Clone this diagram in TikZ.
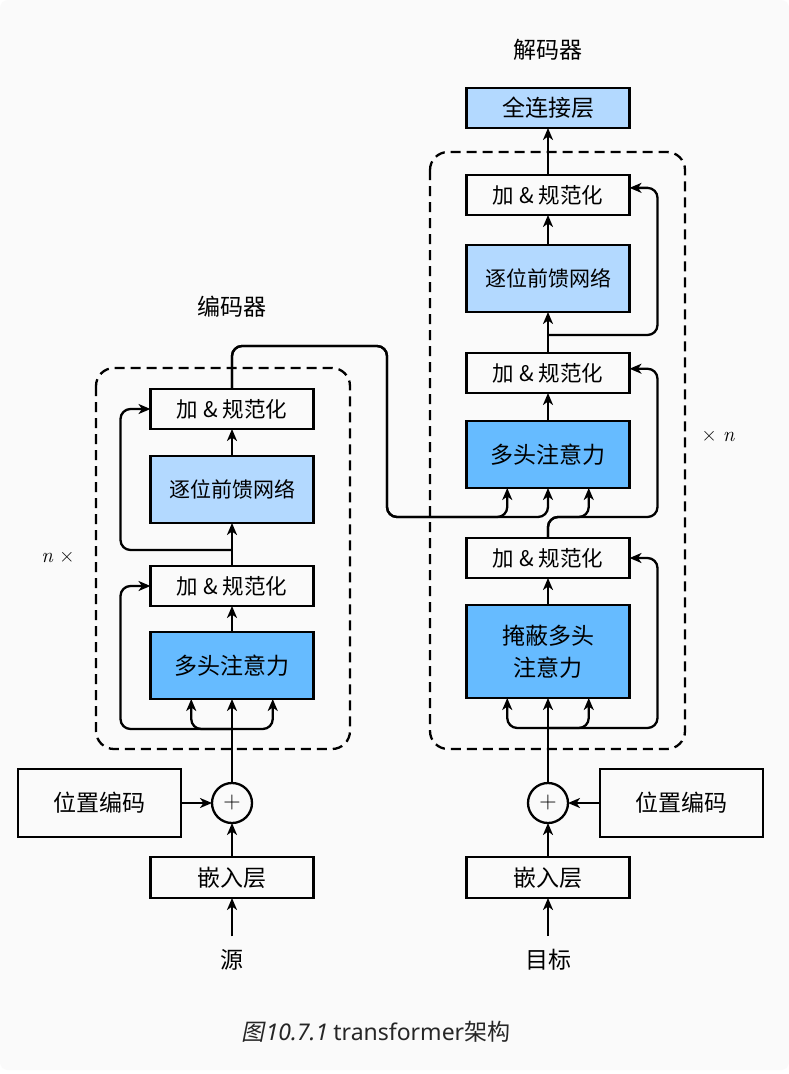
\documentclass[tikz,border=0pt]{standalone}
\usepackage{fontspec}
\setmainfont{Noto Sans CJK SC}
\newfontfamily\latinfont{Noto Sans}
\newfontfamily\lmfont{Latin Modern Roman}
\newfontfamily\cjkslant[FakeSlant=0.2]{Noto Sans CJK SC}
\usetikzlibrary{arrows.meta, positioning, calc}

\definecolor{bgray}{HTML}{FAFAFA}
\definecolor{attnblue}{HTML}{66BBFF}
\definecolor{ffnblue}{HTML}{B3D9FF}

\tikzset{
  blk/.style={draw, line width=2.3pt, outer sep=0pt, minimum width=163pt, minimum height=40pt, inner sep=0pt, font=\fontsize{21.5}{26}\selectfont},
  embbox/.style={blk, minimum height=41pt, font=\fontsize{23}{28}\selectfont},
  attn/.style={blk, fill=attnblue, minimum height=67pt, font=\fontsize{23}{32}\selectfont},
  ffn/.style={blk, fill=ffnblue, minimum height=67pt, font=\fontsize{21}{26}\selectfont},
  posbox/.style={blk, minimum height=68pt, font=\fontsize{23}{28}\selectfont},
  addcirc/.style={circle, draw, line width=2.3pt, outer sep=0pt, minimum size=40pt, inner sep=0pt, font=\lmfont\fontsize{24}{24}\selectfont},
  lbl/.style={inner sep=0pt, font=\fontsize{23}{28}\selectfont},
  nlbl/.style={inner sep=0pt, font=\lmfont\fontsize{21}{24}\selectfont},
  arr/.style={line width=2.3pt, -{Stealth[length=12pt, width=10pt, inset=3.5pt]}},
  link/.style={arr, rounded corners=10pt},
  stackframe/.style={line width=2.3pt, dash pattern=on 10pt off 6pt, rounded corners=18pt}
}

\begin{document}
\begin{tikzpicture}[x=1pt, y=-1pt]
    \fill[white] (0,0) rectangle (789,1074);
    \fill[bgray, rounded corners=8pt] (0,0) rectangle (789,1070);
    \useasboundingbox (0,0) rectangle (789,1074);

    % encoder
    \node[embbox] (embE) at (232,877.5) {嵌入层};
    \node[addcirc, above=34pt of embE] (plusE) {+};
    \node[posbox, left=31pt of plusE] (posE) {位置编码};
    \node[attn, above=84pt of plusE] (mhaE) {多头注意力};
    \node[blk, above=26pt of mhaE] (anE1) {加 \& 规范化};
    \node[ffn, above=43pt of anE1] (ffnE) {逐位前馈网络};
    \node[blk, above=27pt of ffnE] (anE2) {加 \& 规范化};
    \node[lbl] (srcE) at (232,960) {源};
    \node[lbl] (titleE) at (232,307) {编码器};
    \node[nlbl] (nE) at (58,558) {{\itshape n} ×};
    \draw[stackframe] (96,368) rectangle (350,749);

    % decoder
    \node[embbox] (embD) at (548,877.5) {嵌入层};
    \node[addcirc, above=34pt of embD] (plusD) {+};
    \node[posbox, right=32pt of plusD] (posD) {位置编码};
    \node[attn, minimum height=93pt, align=center, above=85pt of plusD] (mmhaD) {掩蔽多头\\注意力};
    \node[blk, above=27pt of mmhaD] (anD1) {加 \& 规范化};
    \node[attn, above=50pt of anD1] (mhaD) {多头注意力};
    \node[blk, above=28pt of mhaD] (anD2) {加 \& 规范化};
    \node[ffn, above=41pt of anD2] (ffnD) {逐位前馈网络};
    \node[blk, above=30pt of ffnD] (anD3) {加 \& 规范化};
    \node[blk, fill=ffnblue, font=\fontsize{23}{28}\selectfont, above=47pt of anD3] (fcD) {全连接层};
    \node[lbl] (tgtD) at (548,960) {目标};
    \node[lbl] (titleD) at (548,50) {解码器};
    \node[nlbl] (nD) at (718,437) {× {\itshape n}};
    \draw[stackframe] (430,152) rectangle (685,749);

    % branch points
    \coordinate[below=30pt of mhaE.south] (brE1);
    \coordinate[above=16pt of anE1.north] (brE2);
    \coordinate[below=30pt of mmhaD.south] (brD0);
    \coordinate[above=21pt of anD1.north] (brD1);
    \coordinate[above=18pt of anD2.north] (brD2);
    \coordinate (qE1) at ($(mhaE.south west)!.25!(mhaE.south east)$);
    \coordinate (qE3) at ($(mhaE.south west)!.75!(mhaE.south east)$);
    \coordinate (qM1) at ($(mmhaD.south west)!.25!(mmhaD.south east)$);
    \coordinate (qM3) at ($(mmhaD.south west)!.75!(mmhaD.south east)$);
    \coordinate (qD1) at ($(mhaD.south west)!.25!(mhaD.south east)$);
    \coordinate (qD3) at ($(mhaD.south west)!.75!(mhaD.south east)$);
    \coordinate (kink) at (387,346);
    \coordinate (jD) at (kink |- brD1);

    % encoder links
    \draw[arr, shorten <=13pt] (srcE) -- (embE);
    \draw[arr] (embE) -- (plusE);
    \draw[arr] (posE) -- (plusE);
    \draw[arr] (plusE) -- (mhaE);
    \draw[link] (brE1) -| (qE1);
    \draw[link] (brE1) -| (qE3);
    \draw[link] (brE1) -| ($(anE1.west)+(-30,0)$) -- (anE1.west);
    \draw[arr] (mhaE) -- (anE1);
    \draw[arr] (anE1) -- (ffnE);
    \draw[link] (brE2) -| ($(anE2.west)+(-30,0)$) -- (anE2.west);
    \draw[arr] (ffnE) -- (anE2);

    % encoder to decoder
    \draw[link] (anE2.north) |- (kink) -- (jD) -| (qD1);
    \draw[link] (anE2.north) |- (kink) -- (jD) -| (mhaD.south);

    % decoder links
    \draw[arr, shorten <=13pt] (tgtD) -- (embD);
    \draw[arr] (embD) -- (plusD);
    \draw[arr] (posD) -- (plusD);
    \draw[arr] (plusD) -- (mmhaD);
    \draw[link] (brD0) -| (qM1);
    \draw[link] (brD0) -| (qM3);
    \draw[link] (brD0) -| ($(anD1.east)+(28,0)$) -- (anD1.east);
    \draw[arr] (mmhaD) -- (anD1);
    \draw[link] (anD1.north) -- (brD1) -| (qD3);
    \draw[link] (anD1.north) -- (brD1) -| ($(anD2.3)+(28,0)$) -- (anD2.3);
    \draw[arr] (mhaD) -- (anD2);
    \draw[arr] (anD2) -- (ffnD);
    \draw[link] (brD2) -| ($(anD3.5)+(28,0)$) -- (anD3.5);
    \draw[arr] (ffnD) -- (anD3);
    \draw[arr] (anD3) -- (fcD);

    % caption
    \node[font=\fontsize{23}{27}\selectfont, text=black!85] (cap) at (376,1032) {{\cjkslant 图}\kern1pt{\latinfont\itshape 10.7.1}\ {\latinfont transformer}架构};
\end{tikzpicture}
\end{document}
